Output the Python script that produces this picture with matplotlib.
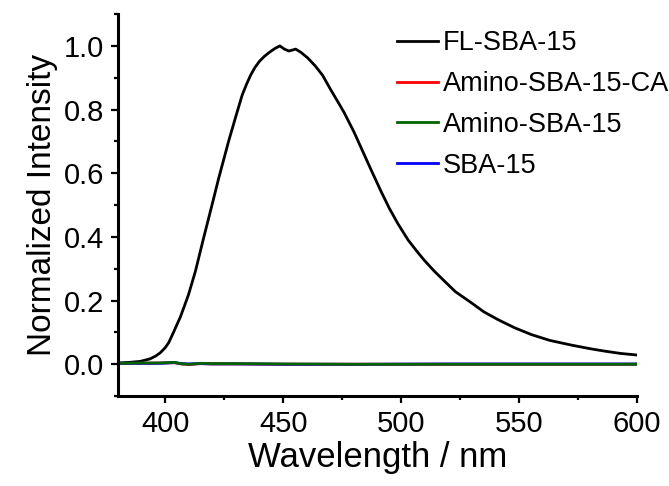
import numpy as np
import matplotlib.pyplot as plt
from matplotlib.ticker import MultipleLocator

plt.rcParams['font.family'] = ['Liberation Sans', 'DejaVu Sans']

# FL-SBA-15 emission spectrum
wl_fl = [380, 385, 389.4, 393.6, 396, 397.9, 400, 401.5, 403.5, 405, 406.4,
         408, 409.9, 412.8, 416.3, 419.9, 422.7, 424.8, 426.9, 429.8, 432.6,
         434.5, 436.2, 438, 440, 442, 444, 446.5, 448.6, 450.5, 452.5, 455.3,
         457.5, 460.3, 463.5, 466.7, 470.2, 473, 475.9, 480, 484.4, 487.2,
         491.5, 495, 498.6, 503, 507, 509.9, 514, 518.4, 523, 529.8, 535,
         541.1, 548, 555.3, 563, 572.3, 580, 586.5, 593, 600]
int_fl = [0.004, 0.006, 0.009, 0.017, 0.026, 0.036, 0.052, 0.068, 0.1, 0.125,
          0.148, 0.18, 0.219, 0.292, 0.397, 0.502, 0.585, 0.643, 0.701, 0.775,
          0.845, 0.88, 0.908, 0.932, 0.952, 0.967, 0.979, 0.992, 1.0, 0.99,
          0.984, 0.99, 0.98, 0.963, 0.938, 0.908, 0.862, 0.827, 0.79, 0.73,
          0.658, 0.612, 0.543, 0.49, 0.442, 0.39, 0.352, 0.326, 0.293, 0.261,
          0.228, 0.193, 0.165, 0.14, 0.115, 0.093, 0.075, 0.06, 0.049, 0.041,
          0.034, 0.029]

# near-zero reference samples
wl_low = [380, 390, 398, 404, 407, 410, 415, 420, 430, 450, 480, 520, 560, 600]
int_ca = [0.003, 0.003, 0.004, 0.005, 0.001, -0.001, 0.002, 0.001, 0.001, 0.0, 0.0, 0.0, 0.0, 0.0]
int_amino = [0.003, 0.004, 0.004, 0.006, 0.001, 0.0, 0.003, 0.002, 0.002, 0.001, 0.0, 0.0, 0.0, 0.0]
int_sba = [0.003, 0.003, 0.003, 0.005, 0.002, 0.001, 0.002, 0.001, 0.001, 0.0, 0.0, 0.001, 0.001, 0.001]

fig = plt.figure(figsize=(6.69, 4.86), dpi=100)
ax = fig.add_axes([0.1764, 0.185, 0.7758, 0.786])

l1, = ax.plot(wl_fl, int_fl, color='black', linewidth=2, label='FL-SBA-15')
l2, = ax.plot(wl_low, int_ca, color='red', linewidth=2, label='Amino-SBA-15-CA')
l4, = ax.plot(wl_low, int_sba, color='blue', linewidth=2, label='SBA-15')
l3, = ax.plot(wl_low, int_amino, color='#006400', linewidth=2, label='Amino-SBA-15')

ax.set_xlim(380, 600)
ax.set_ylim(-0.1, 1.1)
ax.xaxis.set_major_locator(MultipleLocator(50))
ax.xaxis.set_minor_locator(MultipleLocator(25))
ax.yaxis.set_major_locator(MultipleLocator(0.2))
ax.yaxis.set_minor_locator(MultipleLocator(0.1))
ax.yaxis.set_major_formatter(plt.FormatStrFormatter('%.1f'))

for s in ['top', 'right']:
    ax.spines[s].set_visible(False)
for s in ['left', 'bottom']:
    ax.spines[s].set_linewidth(2.2)
ax.tick_params(which='major', direction='out', length=5, width=1.6, labelsize=21, pad=5)
ax.tick_params(which='minor', direction='out', length=3, width=1.6)

ax.set_xlabel('Wavelength / nm', fontsize=25, labelpad=2)
ax.set_ylabel('Normalized Intensity', fontsize=24, labelpad=4)

ax.legend(handles=[l1, l2, l3, l4], loc='upper left', bbox_to_anchor=(0.5376, 0.958),
          frameon=False, fontsize=19.5, handlelength=1.5, handletextpad=0.2,
          labelspacing=0.55, borderaxespad=0, borderpad=0)

fig.savefig('out.png', dpi=100)
